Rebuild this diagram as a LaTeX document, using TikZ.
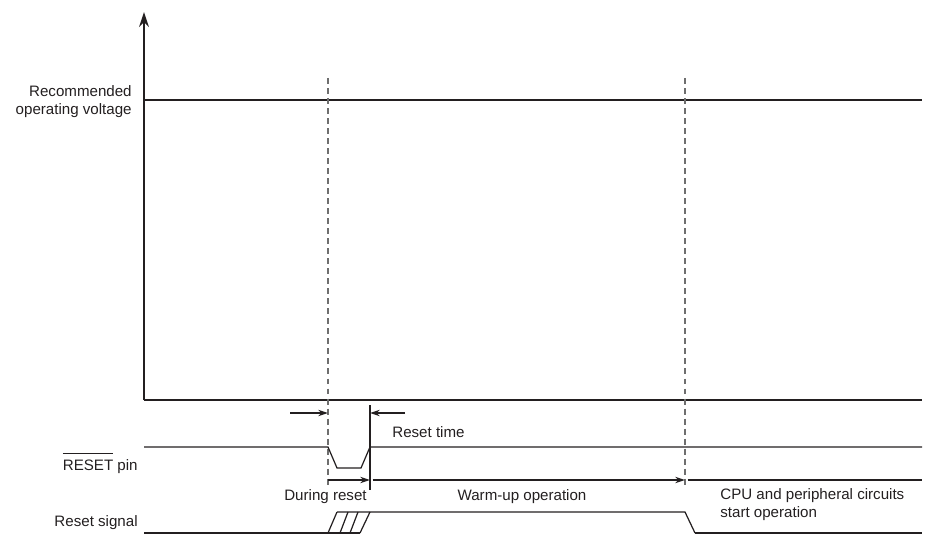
\documentclass[tikz,border=0pt]{standalone}
\usepackage{fontspec}
\setmainfont{Liberation Sans}
\usepackage{xcolor}
\usetikzlibrary{arrows.meta,positioning,calc}
\definecolor{wavegray}{RGB}{35,31,32}
\definecolor{dashgray}{RGB}{110,110,110}

\begin{document}
\begin{tikzpicture}[
    axis/.style={line width=1.1pt, draw=wavegray},
    wave/.style={line width=0.7pt, draw=wavegray},
    guide/.style={line width=0.6pt, draw=dashgray, dash pattern=on 3.4pt off 2.3pt},
    lbl/.style={font=\fontsize{8.6}{10.2}\selectfont, text=wavegray, inner sep=0pt},
    >={Stealth[length=5.5pt, width=3.6pt]}
]
\useasboundingbox (0,0) rectangle (18.74,10.76);

% voltage axis
\coordinate (origin) at (2.88,2.76);
\coordinate (ytop) at (2.88,10.52);
\coordinate (xend) at (18.44,2.76);
\draw[axis, -{Stealth[length=8.5pt, width=5.6pt]}] (origin) -- (ytop);
\draw[axis] (origin) -- (xend);
\draw[axis] (2.88,8.76) -- (18.44,8.76);
\node[lbl, align=right, anchor=east] (vrec) at (2.64,8.72) {Recommended\\operating voltage};

% timing guides
\coordinate (rstA) at (6.56,9.20);
\coordinate (rstB) at (6.56,1.06);
\coordinate (wupA) at (13.70,9.20);
\coordinate (wupB) at (13.70,1.06);
\draw[guide] (rstA) -- (rstB);
\draw[guide] (wupA) -- (wupB);
\coordinate (endA) at (7.40,2.66);
\coordinate (endB) at (7.40,0.96);
\draw[wave] (endA) -- (endB);

% reset time
\coordinate (inL) at (5.80,2.50);
\coordinate (inR) at (8.10,2.50);
\draw[wave, ->] (inL) -- (inL -| rstA);
\draw[wave, ->] (inR) -- (inR -| endA);
\node[lbl, anchor=west] (rtime) at (7.84,2.12) {Reset time};

% RESET pin
\draw[wave] (2.88,1.82) -- (6.56,1.82) -- (6.74,1.40) -- (7.22,1.40)
    -- (7.40,1.82) -- (18.44,1.82);
\node[lbl, anchor=east] (pin) at (2.76,1.50) {$\overline{\mbox{RESET}\rule{0pt}{8.4pt}}$ pin};

% phases
\coordinate (ph0) at (6.56,1.16);
\coordinate (ph1) at (7.40,1.16);
\coordinate (ph2) at (13.70,1.16);
\coordinate (ph3) at (18.44,1.16);
\draw[wave, ->] (ph0) -- (ph1);
\draw[wave, ->] ([xshift=1.5pt]ph1) -- (ph2);
\draw[wave] ([xshift=1.5pt]ph2) -- (ph3);
\node[lbl, anchor=east] (during) at (7.34,0.82) {During reset};
\node[lbl] (warm) at (10.44,0.82) {Warm-up operation};
\node[lbl, align=left, anchor=north west] (cpu) at (14.40,1.00) {CPU and peripheral circuits\\start operation};

% reset signal
\draw[axis] (2.88,0.10) -- (6.56,0.10);
\draw[wave] (6.56,0.10) -- (7.20,0.10);
\draw[wave] (6.56,0.10) -- (6.74,0.52);
\draw[wave] (6.80,0.10) -- (6.96,0.52);
\draw[wave] (7.00,0.10) -- (7.16,0.52);
\draw[wave] (7.20,0.10) -- (7.40,0.52);
\draw[wave] (6.74,0.52) -- (13.70,0.52) -- (13.90,0.10);
\draw[axis] (13.90,0.10) -- (18.44,0.10);
\node[lbl, anchor=east] (sig) at (2.76,0.30) {Reset signal};

\end{tikzpicture}
\end{document}
